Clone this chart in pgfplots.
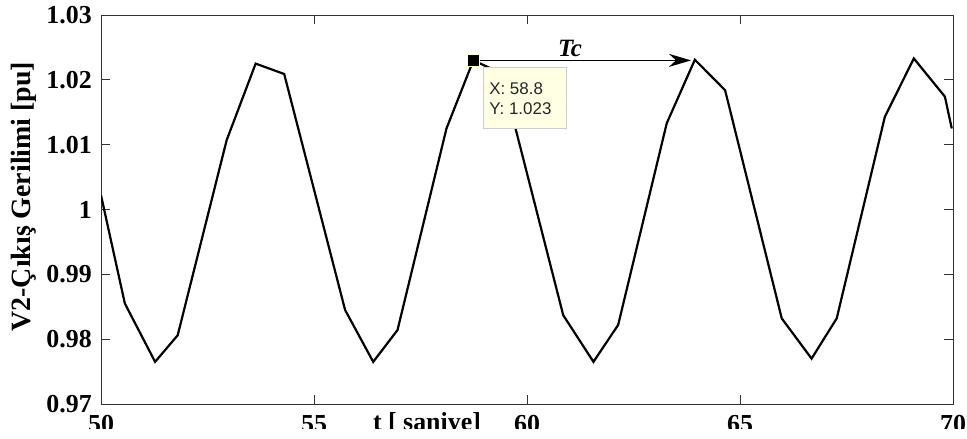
\documentclass[border=0pt]{standalone}
\usepackage{pgfplots}
\pgfplotsset{compat=1.18}
\usepackage{fontspec}
\setmainfont{Liberation Serif}
\newfontfamily\arial{Liberation Sans}
\usetikzlibrary{arrows.meta}
\definecolor{tipfill}{RGB}{255,255,228}
\definecolor{tipdraw}{RGB}{205,205,205}
\definecolor{markedge}{RGB}{255,255,200}
\begin{document}
\begin{tikzpicture}[x=1bp,y=1bp]
\begin{scope}
\clip (0,10) rectangle (967,439);
\begin{axis}[
  at={(101bp,35bp)}, anchor=south west,
  scale only axis, width=852bp, height=389bp,
  xmin=50, xmax=70, ymin=0.97, ymax=1.03,
  xtick={50,55,60,65,70},
  xticklabels={50,55,60,65,70},
  ytick={0.97,0.98,0.99,1,1.01,1.02,1.03},
  yticklabels={0.97,0.98,0.99,1,1.01,1.02,1.03},
  tick align=inside, major tick length=9bp,
  tick style={black!80, line width=0.8bp},
  axis line style={black!80, line width=0.9bp},
  xtick pos=both, ytick pos=both,
  /pgf/number format/assume math mode=true,
  ticklabel style={font=\fontsize{26}{29}\selectfont\bfseries},
  xticklabel style={anchor=north, inner sep=0pt, yshift=-11bp},
  yticklabel style={anchor=east, inner sep=0pt, xshift=-9bp},
  xlabel={t [ saniye]},
  ylabel={V2-Çıkış Gerilimi [pu]},
  every axis x label/.style={at={(axis description cs:0.3826,-0.0206)}, anchor=north, inner sep=0pt, font=\fontsize{26}{29}\selectfont\bfseries},
  every axis y label/.style={at={(axis description cs:-0.091,0.533)}, rotate=90, anchor=center, inner sep=0pt, font=\fontsize{28}{32}\selectfont\bfseries},
]
\addplot[black, line width=2.2bp, line join=miter] coordinates {
(50.00,1.0022) (50.56,0.9855) (51.27,0.9765) (51.80,0.9806) (52.95,1.0107)
(53.63,1.0225) (54.30,1.0209) (55.73,0.9845) (56.39,0.9765) (56.96,0.9814)
(58.11,1.0125) (58.74,1.0230) (59.40,1.0210) (60.85,0.9837) (61.56,0.9765)
(62.14,0.9822) (63.28,1.0133) (63.94,1.0231) (64.65,1.0184) (65.98,0.9832)
(66.68,0.9770) (67.27,0.9832) (68.40,1.0143) (69.08,1.0233) (69.81,1.0174)
(69.97,1.0125)
};
\draw[black, line width=1.4bp, -{Stealth[length=22bp,width=13bp,inset=7bp]}] (axis cs:58.74,1.0230) -- (axis cs:63.85,1.0230);
\node[anchor=base, inner sep=0pt, font=\fontsize{25}{28}\selectfont\bfseries\itshape] at (axis cs:61.01,1.0236) {Tc};
\addplot[only marks, mark=square*, mark size=6bp, mark options={fill=black, draw=markedge, line width=1.5bp}] coordinates {(58.74,1.0230)};
\draw[draw=tipdraw, fill=tipfill, line width=1bp] (axis cs:58.97,1.02183) rectangle (axis cs:60.92,1.01242);
\node[anchor=base west, inner sep=0pt, text=black!85, font=\arial\fontsize{17}{20}\selectfont] at (axis cs:59.11,1.01766) {X: 58.8};
\node[anchor=base west, inner sep=0pt, text=black!85, font=\arial\fontsize{17}{20}\selectfont] at (axis cs:59.11,1.01458) {Y: 1.023};
\end{axis}
\end{scope}
\pgfresetboundingbox
\useasboundingbox (0,0) rectangle (967,439);
\end{tikzpicture}
\end{document}
